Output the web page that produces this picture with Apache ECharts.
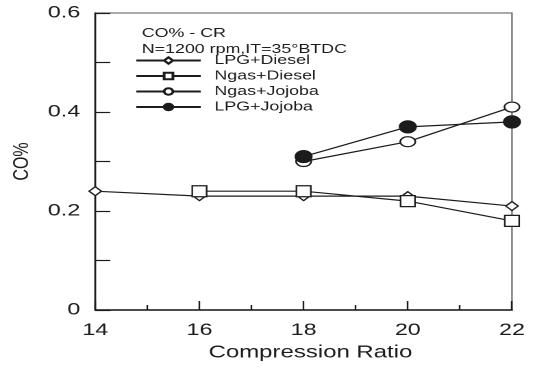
<!DOCTYPE html>
<html>
<head>
<meta charset="utf-8">
<script src="https://cdn.jsdelivr.net/npm/echarts@6/dist/echarts.min.js"></script>
<style>
  html, body { margin: 0; padding: 0; background: #fff; overflow: hidden; }
  /* The figure is laid out narrow and then widened horizontally. */
  #chart { width: 400px; height: 368px; transform: scaleX(1.37); transform-origin: 0 0; }
</style>
</head>
<body>
<div id="chart"></div>
<script>
// Compression ratio values on the x axis
const compressionRatio = [14, 16, 18, 20, 22];

// CO% for each fuel combination (null where not measured)
const lpgDiesel   = [0.24, 0.23, 0.23, 0.23, 0.21];
const ngasDiesel  = [null, 0.24, 0.24, 0.22, 0.18];
const ngasJojoba  = [null, null, 0.30, 0.34, 0.41];
const lpgJojoba   = [null, null, 0.31, 0.37, 0.38];

const seriesNames = ['LPG+Diesel', 'Ngas+Diesel', 'Ngas+Jojoba', 'LPG+Jojoba'];
const yLabelTicks = [0, 0.2, 0.4, 0.6];

const FONT = 'Liberation Sans, Arial, sans-serif';
const INK = '#1c1c1c';

function pairs(values) {
  return compressionRatio.map((x, i) => [x, values[i]]).filter(p => p[1] !== null);
}

const markerDefs = [
  { symbol: 'diamond', size: [9, 9], fill: '#fff' },
  { symbol: 'rect', size: [10.5, 11], fill: '#fff' },
  { symbol: 'circle', size: [11, 10], fill: '#fff' },
  { symbol: 'circle', size: [12, 12], fill: INK }
];
const seriesData = [lpgDiesel, ngasDiesel, ngasJojoba, lpgJojoba];

const chart = echarts.init(document.getElementById('chart'), null, { renderer: 'canvas', devicePixelRatio: 2 });

chart.setOption({
  animation: false,
  backgroundColor: '#fff',
  grid: {
    left: 69.3, right: 26.3, top: 13, bottom: 58,
    show: true, borderColor: '#777', borderWidth: 1.2, backgroundColor: 'transparent'
  },
  title: [
    { text: 'CO% - CR', left: 98.5, top: 22,
      textStyle: { fontFamily: FONT, fontSize: 13, fontWeight: 'normal', color: INK } },
    { text: 'N=1200 rpm,IT=35°BTDC', left: 98.5, top: 38,
      textStyle: { fontFamily: FONT, fontSize: 13, fontWeight: 'normal', color: INK } }
  ],
  legend: {
    orient: 'vertical', left: 98.5, top: 54,
    itemWidth: 47, itemHeight: 8, itemGap: 2.5,
    padding: 0,
    data: seriesNames,
    textStyle: { fontFamily: FONT, fontSize: 13, color: INK, padding: [0, 0, 0, 5] }
  },
  xAxis: {
    type: 'value', min: 14, max: 22, interval: 2,
    name: 'Compression Ratio', nameLocation: 'middle', nameGap: 27,
    nameTextStyle: { fontFamily: FONT, fontSize: 17.5, color: INK, padding: [0, 0, 0, 10] },
    axisLine: { lineStyle: { color: INK, width: 1.5 } },
    axisTick: { inside: true, length: 9, lineStyle: { color: INK, width: 1.2 } },
    minorTick: { show: true, splitNumber: 2, length: 5, lineStyle: { color: INK, width: 1.2 } },
    axisLabel: { fontFamily: FONT, fontSize: 17, color: INK, margin: 12 },
    splitLine: { show: false }
  },
  yAxis: {
    type: 'value', min: 0, max: 0.6, interval: 0.1,
    name: 'CO%', nameLocation: 'middle', nameGap: 37, nameRotate: 90,
    nameTextStyle: { fontFamily: FONT, fontSize: 16, color: INK },
    axisLine: { show: true, lineStyle: { color: INK, width: 1.3 } },
    axisTick: { show: true, inside: true, length: 11, lineStyle: { color: INK, width: 1.2 } },
    axisLabel: {
      fontFamily: FONT, fontSize: 17, color: INK, margin: 11,
      formatter: v => {
        const r = Math.round(v * 10) / 10;
        return yLabelTicks.some(t => Math.abs(t - r) < 1e-6) ? String(r) : '';
      }
    },
    splitLine: { show: false }
  },
  series: seriesNames.map((name, i) => ({
    name,
    type: 'line',
    data: pairs(seriesData[i]),
    symbol: markerDefs[i].symbol,
    symbolSize: markerDefs[i].size,
    showAllSymbol: true,
    lineStyle: { color: INK, width: 1.2 },
    itemStyle: { color: markerDefs[i].fill, borderColor: INK, borderWidth: 1.2 },
    emphasis: { disabled: true },
    z: 3 + i
  }))
});
</script>
</body>
</html>
